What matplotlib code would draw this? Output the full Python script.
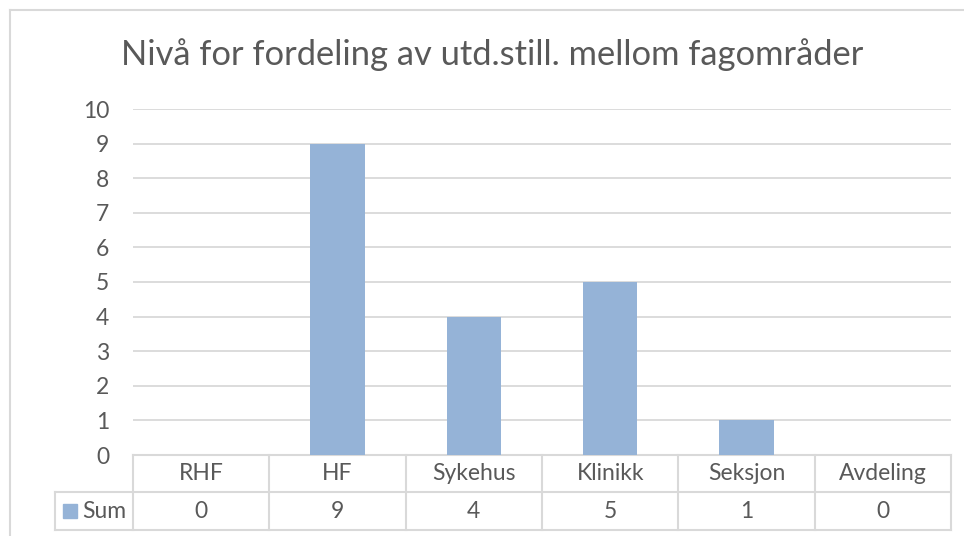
import matplotlib.pyplot as plt
from matplotlib.transforms import blended_transform_factory

# data
kategorier = ['RHF', 'HF', 'Sykehus', 'Klinikk', 'Seksjon', 'Avdeling']
verdier = [0, 9, 4, 5, 1, 0]
serie = 'Sum'
tittel = 'Nivå for fordeling av utd.still. mellom fagområder'

W, H = 964, 536
tekst = '#595959'
linje = '#D9D9D9'
bla = '#95B3D7'
plt.rcParams['font.family'] = ['Lato', 'DejaVu Sans']
fs = 16.5


def fx(px):
    return px / W


def fy(py):
    return 1 - py / H


fig = plt.figure(figsize=(W / 100, H / 100), dpi=100)
ax = fig.add_axes([fx(133), fy(455), fx(951) - fx(133), fy(109) - fy(455)])

x = list(range(len(kategorier)))
ax.bar(x, verdier, width=0.4, color=bla, zorder=3)
ax.set_xlim(-0.5, len(kategorier) - 0.5)
ax.set_ylim(0, 10)
ax.set_yticks(range(0, 11))
ax.grid(axis='y', color=linje, linewidth=1.3, zorder=0)
ax.set_xticks([])
for s in ax.spines.values():
    s.set_visible(False)
ax.tick_params(axis='y', length=0, pad=17, labelsize=fs, labelcolor=tekst)

# tittel
fig.text(fx(492), fy(55), tittel, ha='center', va='center', fontsize=24.8, color=tekst)

# ramme rundt diagrammet
fig.add_artist(plt.Line2D([fx(10), fx(10)], [fy(10), 0], color=linje, lw=1.5))
fig.add_artist(plt.Line2D([fx(10), 1], [fy(10), fy(10)], color=linje, lw=1.5))

# datatabell
tr = blended_transform_factory(ax.transData, fig.transFigure)
y0, y1, y2 = fy(455), fy(492), fy(530)
kw = dict(color=linje, lw=1.5, transform=tr, clip_on=False)
venstre = -0.5 - (133 - 55) / ((951 - 133) / len(kategorier))
ax.plot([-0.5, len(kategorier) - 0.5], [y0, y0], **kw)
ax.plot([venstre, len(kategorier) - 0.5], [y1, y1], **kw)
ax.plot([venstre, len(kategorier) - 0.5], [y2, y2], **kw)
ax.plot([venstre, venstre], [y1, y2], **kw)
for i in range(len(kategorier) + 1):
    ax.plot([i - 0.5, i - 0.5], [y0, y2], **kw)
for i, (k, v) in enumerate(zip(kategorier, verdier)):
    ax.text(i, (y0 + y1) / 2, k, transform=tr, ha='center', va='center',
            fontsize=fs, color=tekst)
    ax.text(i, (y1 + y2) / 2, str(v), transform=tr, ha='center', va='center',
            fontsize=fs, color=tekst)

fig.add_artist(plt.Rectangle((fx(63), fy(518)), fx(14), fy(504) - fy(518), color=bla))
fig.text(fx(82), (y1 + y2) / 2, serie, ha='left', va='center', fontsize=fs, color=tekst)

fig.savefig('out.png', dpi=100)
